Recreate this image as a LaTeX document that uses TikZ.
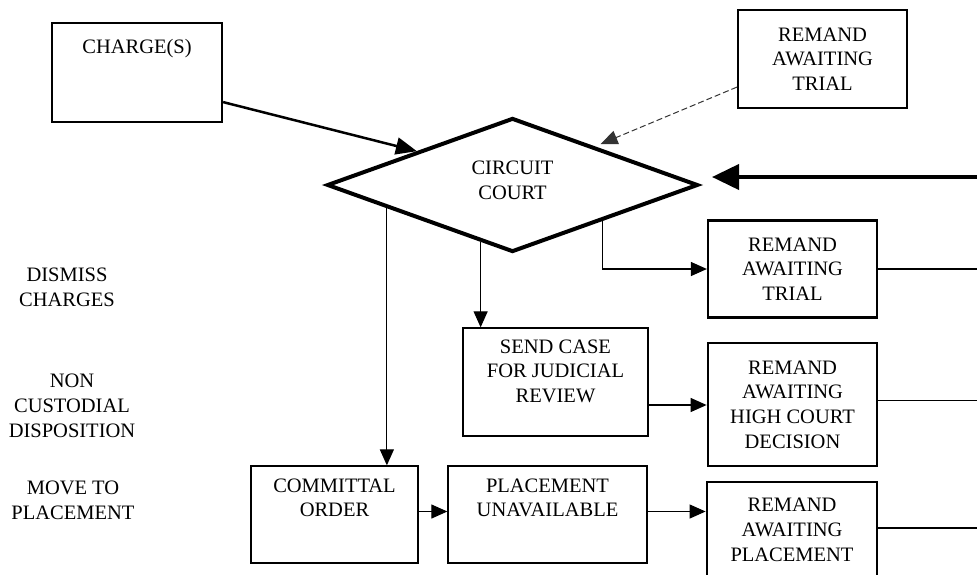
\documentclass[tikz,border=0pt]{standalone}
\usepackage{fontspec}
\setmainfont{Liberation Serif}
\usetikzlibrary{arrows.meta,shapes.geometric,calc}
\newcommand\dgfs{\fontsize{20.5}{24.7}\selectfont}
\begin{document}
\begin{tikzpicture}[x=1pt,y=-1pt,
  lbl/.style={font=\dgfs, align=center, inner sep=0pt},
  heavybox/.style={draw, line width=2.2pt, inner sep=0pt, font=\dgfs, align=center},
  heavierbox/.style={draw, line width=2.8pt, inner sep=0pt, font=\dgfs, align=center},
  lightbox/.style={draw, line width=1.3pt, inner sep=0pt},
  thinarrow/.style={line width=1.2pt, -{Triangle[length=16pt,width=14pt]}},
  thinline/.style={line width=1.2pt}]
\useasboundingbox (0,0) rectangle (977,574);
\clip (0,0) rectangle (977,574);

% boxes
\node[heavybox, minimum width=170pt, minimum height=99pt] (charge) at (137,72.5) {};
\node[lbl, anchor=north] (chargeT) at ($(charge.north)+(0,17)$) {CHARGE(S)};

\node[heavybox, minimum width=169pt, minimum height=98pt] (rt) at (822.5,59) {REMAND\\AWAITING\\TRIAL};

\node[diamond, draw, line width=4pt, minimum width=371pt, minimum height=134pt, inner sep=0pt] (cc) at (512.5,185) {};
\node[lbl] (ccT) at (512.5,180) {CIRCUIT\\COURT};

\node[heavybox, minimum width=169pt, minimum height=97pt] (rtr) at (792.5,269) {REMAND\\AWAITING\\TRIAL};
\node[heavierbox, minimum width=169pt, minimum height=123pt] (rhc) at (792.5,404.5) {REMAND\\AWAITING\\HIGH COURT\\DECISION};
\node[heavierbox, minimum width=170pt, minimum height=96pt] (rp) at (792,530) {REMAND\\AWAITING\\PLACEMENT};

\node[lightbox, minimum width=185pt, minimum height=108pt] (send) at (555.5,382) {};
\node[lbl, anchor=north] (sendT) at ($(send.north)+(0,12)$) {SEND CASE\\FOR JUDICIAL\\REVIEW};

\node[lightbox, minimum width=167pt, minimum height=97pt] (com) at (334.5,514.5) {};
\node[lbl, anchor=north] (comT) at ($(com.north)+(0,13)$) {COMMITTAL\\ORDER};

\node[lightbox, minimum width=199pt, minimum height=97pt] (pu) at (547.5,514.5) {};
\node[lbl, anchor=north] (puT) at ($(pu.north)+(0,13)$) {PLACEMENT\\UNAVAILABLE};

% left labels
\node[lbl] (dismiss) at (67,287) {DISMISS\\CHARGES};
\node[lbl] (noncust) at (72,406) {NON\\CUSTODIAL\\DISPOSITION};
\node[lbl] (move) at (73,500) {MOVE TO\\PLACEMENT};

% connector end points
\coordinate (inR) at (977,177);
\coordinate (edgeR) at (977,0);
\coordinate (c1) at ($(charge.south east)+(0,-21)$);
\coordinate (c2) at ($(rt.south west)+(0,-22)$);
\coordinate (d1) at ($(cc.west)!0.33!(cc.south)$);
\coordinate (d2) at ($(cc.west)!0.83!(cc.south)$);
\coordinate (d3) at ($(cc.south)!0.48!(cc.east)$);
\coordinate (s1) at ($(send.east)+(0,23)$);
\coordinate (p1) at ($(com.east)+(0,-3)$);
\coordinate (p2) at ($(pu.east)+(0,-3)$);
\coordinate (o2) at ($(rhc.east)+(0,-4)$);
\coordinate (o3) at ($(rp.east)+(0,-2)$);

% connectors
\draw[line width=2.5pt, -{Triangle[length=21pt,width=17pt]}] (c1) -- ($(cc.west)!0.49!(cc.north)$);
\draw[line width=1pt, black!80, dash pattern=on 6pt off 3pt, -{Triangle[length=17pt,width=14pt]}, shorten >=6pt] (c2) -- ($(cc.north)!0.44!(cc.east)$);
\draw[line width=4pt, -{Triangle[length=27pt,width=25pt]}, shorten >=12pt] (inR) -- (inR -| cc.east);
\draw[thinarrow] (d1) -- (d1 |- com.north);
\draw[thinarrow] (d2) -- (d2 |- send.north);
\draw[thinarrow] (d3) |- (rtr.west);
\draw[thinarrow] (s1) -- (s1 -| rhc.west);
\draw[thinarrow] (p1) -- (p1 -| pu.west);
\draw[thinarrow] (p2) -- (p2 -| rp.west);
\draw[thinline] (rtr.east) -- (rtr.east -| edgeR);
\draw[thinline] (o2) -- (o2 -| edgeR);
\draw[thinline] (o3) -- (o3 -| edgeR);
\end{tikzpicture}
\end{document}
